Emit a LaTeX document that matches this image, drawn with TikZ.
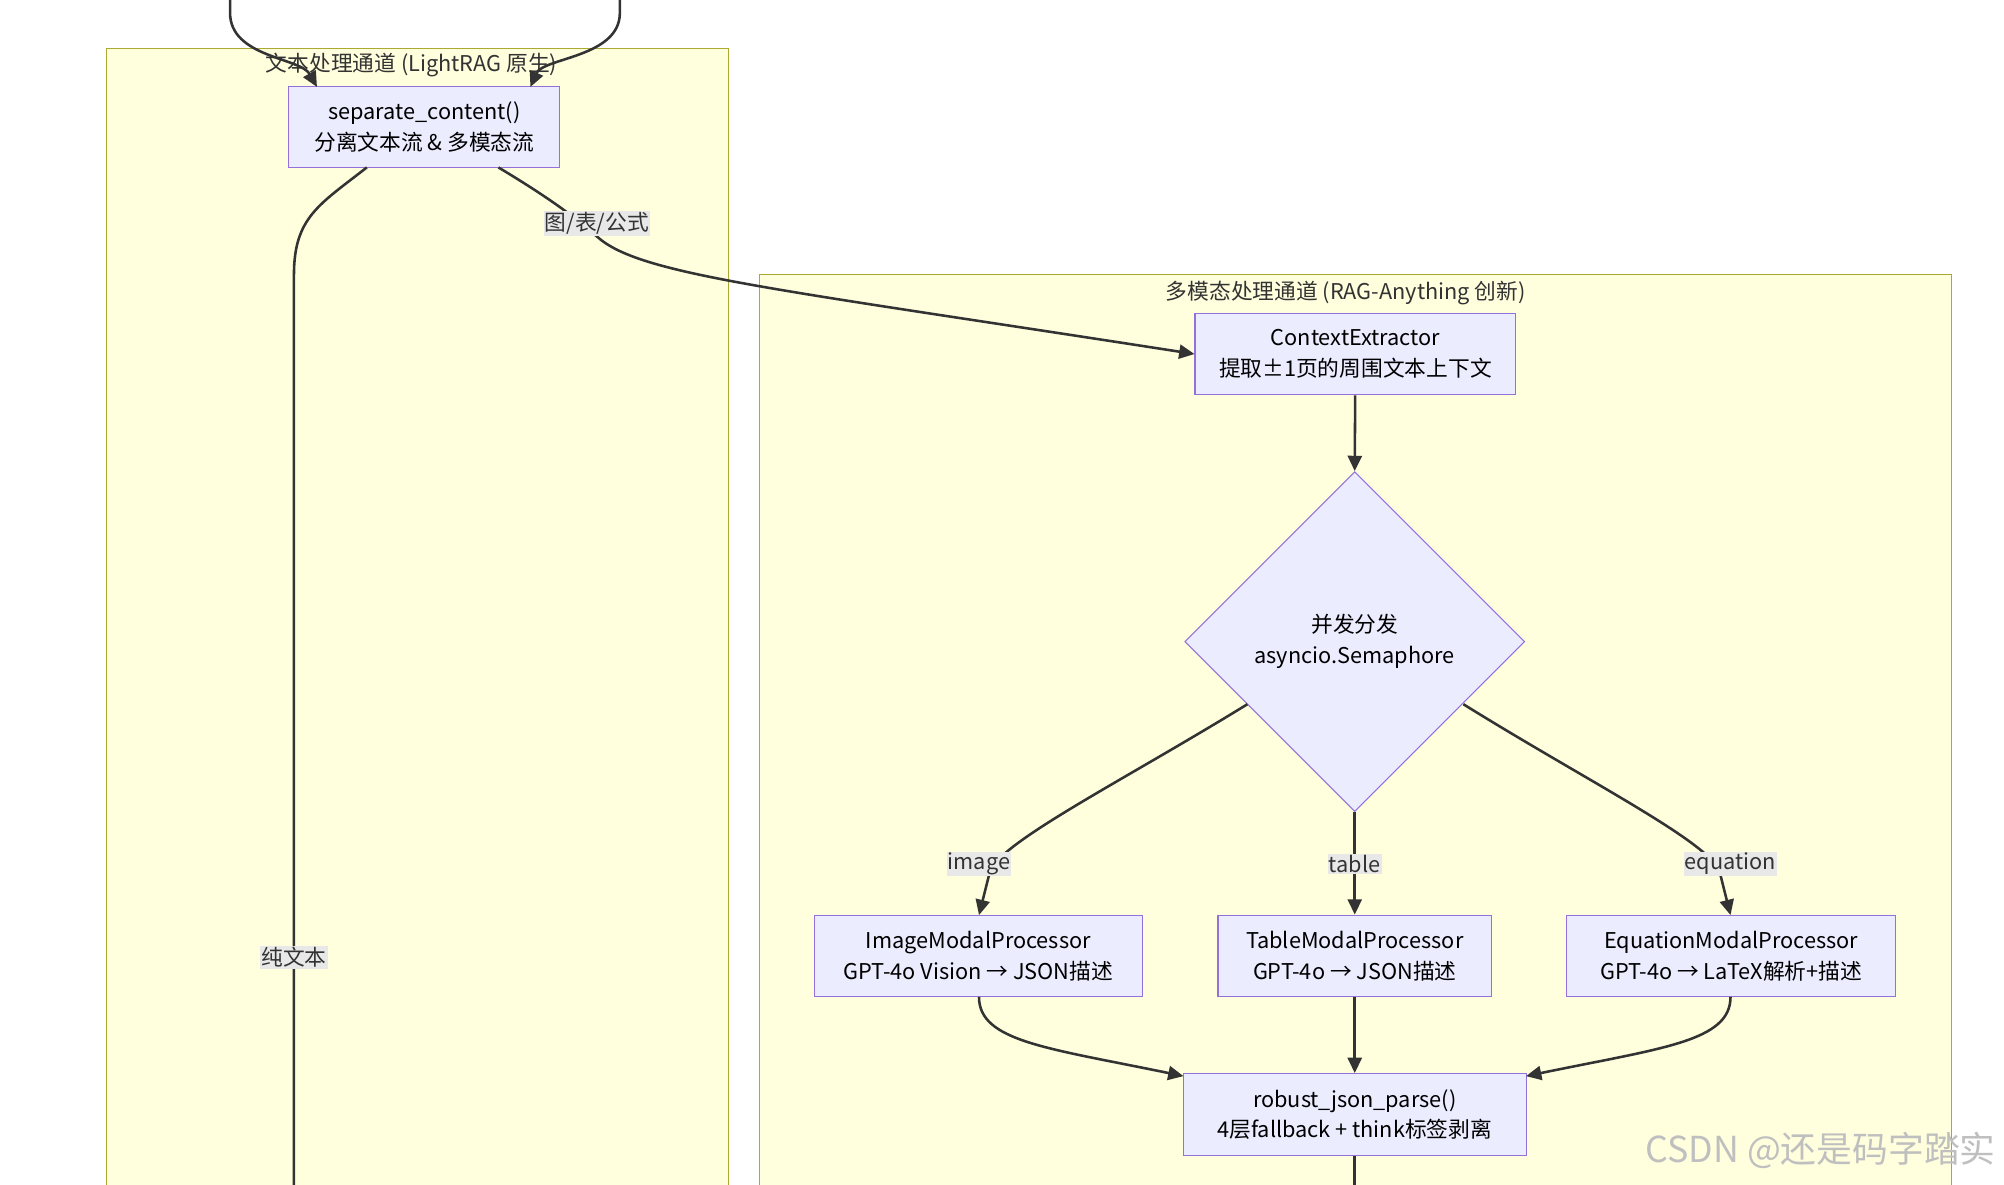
\documentclass[tikz,border=0pt]{standalone}
\usepackage{fontspec}
\setmainfont{Noto Sans CJK SC}
\usetikzlibrary{shapes.geometric,arrows.meta}
\definecolor{clf}{HTML}{FFFFDE}\definecolor{cls}{HTML}{AAAA33}
\definecolor{ndf}{HTML}{ECECFF}\definecolor{nds}{HTML}{9370DB}
\definecolor{ln}{HTML}{333333}\definecolor{lb}{HTML}{E8E8E8}
\tikzset{
 clus/.style={draw=cls,fill=clf,line width=0.8pt},
 box/.style={draw=nds,fill=ndf,line width=0.8pt,align=center,font=\fontsize{17}{24}\selectfont,inner sep=0pt},
 ttl/.style={font=\fontsize{17}{20}\selectfont,text=ln},
 arr/.style={draw=ln,line width=2pt,-{Triangle[length=12pt,width=11pt]}},
 ln/.style={draw=ln,line width=2pt},
 lab/.style={fill=lb,font=\fontsize{17}{20}\selectfont,text=ln,inner sep=1pt}
}
\begin{document}
\begin{tikzpicture}[x=1pt,y=-1pt]
\useasboundingbox (0,0) rectangle (1568,927);
\fill[white] (0,0) rectangle (1568,927);
\draw[clus] (83,38) rectangle (570,940);
\draw[clus] (594,215) rectangle (1527,940);
\node[ttl] (t1) at (322,51) {文本处理通道 (LightRAG 原生)};
\node[ttl] (t2) at (1053,229) {多模态处理通道 (RAG-Anything 创新)};
\node[box,minimum width=212pt,minimum height=63pt] (sep) at (332,99.5) {separate\_content()\\分离文本流 \& 多模态流};
\node[box,minimum width=251pt,minimum height=64pt] (ctx) at (1060.5,277) {ContextExtractor\\提取±1页的周围文本上下文};
\node[box,diamond,minimum width=266pt,minimum height=266pt,aspect=1] (dia) at (1060,502) {并发分发\\asyncio.Semaphore};
\node[box,minimum width=257pt,minimum height=64pt] (img) at (765.5,748) {ImageModalProcessor\\GPT-4o Vision → JSON描述};
\node[box,minimum width=214pt,minimum height=64pt] (tab) at (1060,748) {TableModalProcessor\\GPT-4o → JSON描述};
\node[box,minimum width=257pt,minimum height=64pt] (eq) at (1354.5,748) {EquationModalProcessor\\GPT-4o → LaTeX解析+描述};
\node[box,minimum width=268pt,minimum height=64pt] (rob) at (1060,872) {robust\_json\_parse()\\4层fallback + think标签剥离};
\coordinate (in1) at (180,-5); \coordinate (in2) at (485,-5);
\coordinate (out1) at (230,940); \coordinate (out2) at (1060,940);
\draw[arr] (in1) -- (180,10) .. controls (180,45) and (235,45) .. (248,68);
\draw[arr] (in2) -- (485,10) .. controls (485,45) and (425,45) .. (415,68);
\draw[ln] (287,131) .. controls (250,160) and (230,170) .. (230,215) -- (out1);
\node[lab] (l0) at (230,749) {纯文本};
\draw[arr] (390,131) .. controls (430,155) and (450,170) .. (467,185) .. controls (500,215) and (600,225) .. (ctx.west);
\node[lab] (l1) at (467,175) {图/表/公式};
\draw[arr] (ctx) -- (dia.north);
\draw[arr] (976,551) .. controls (880,610) and (790,655) .. (775,680) -- (766,716);
\draw[arr] (1060,635) -- (tab.north);
\draw[arr] (1145,551) .. controls (1240,610) and (1330,655) .. (1345,680) -- (1354,716);
\node[lab] (l2) at (766,676) {image};
\node[lab] (l3) at (1060,676) {table};
\node[lab] (l4) at (1354,676) {equation};
\draw[arr] (766,780) .. controls (766,815) and (820,820) .. (926,842);
\draw[arr] (tab) -- (rob);
\draw[arr] (1354,780) .. controls (1354,815) and (1300,820) .. (1194,842);
\draw[ln] (rob) -- (out2);
\node[font=\fontsize{28}{30}\selectfont,text=black!25,anchor=east] (wm) at (1565,900) {CSDN @还是码字踏实};
\end{tikzpicture}
\end{document}
